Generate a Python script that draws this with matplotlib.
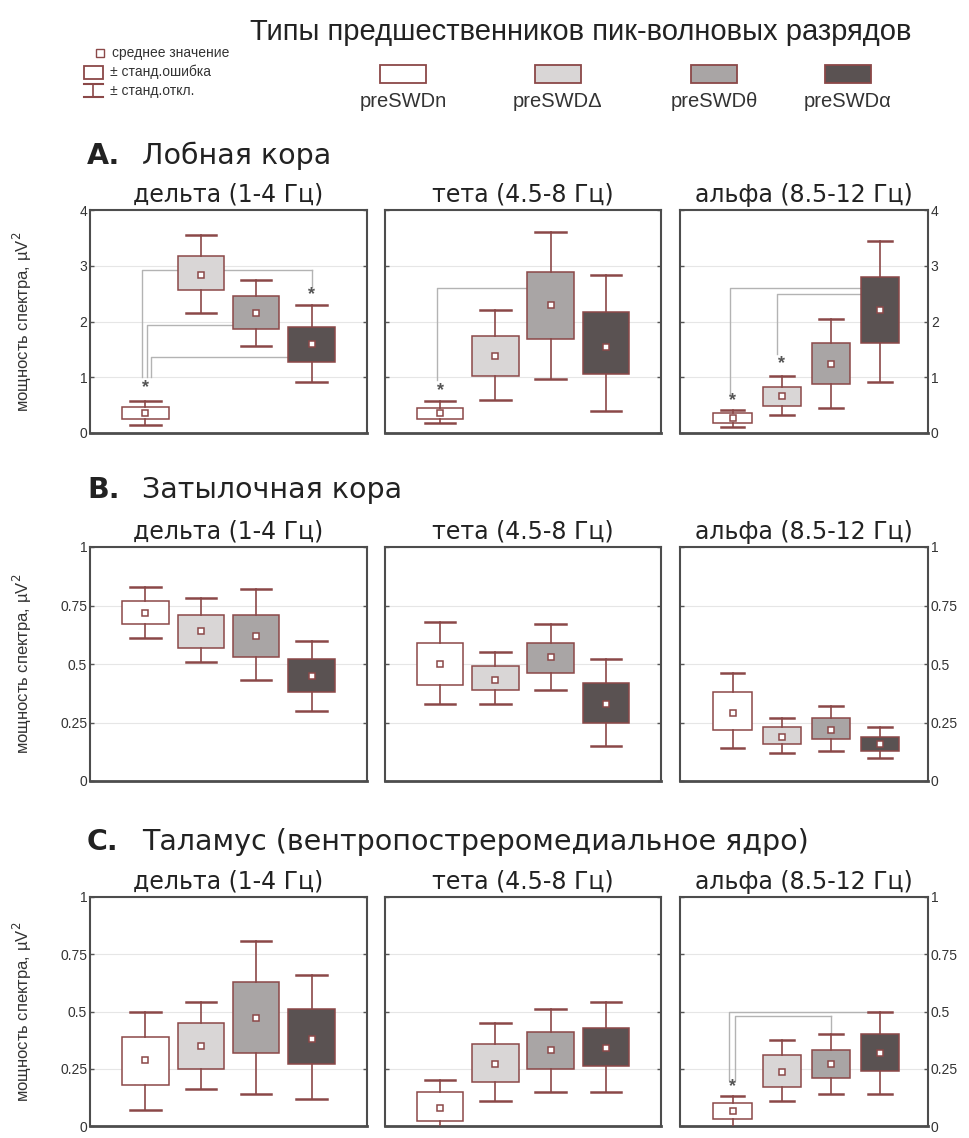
import numpy as np
import matplotlib.pyplot as plt
from matplotlib.patches import Rectangle

plt.rcParams['font.family'] = ['Liberation Sans', 'DejaVu Sans']

groups = ['preSWDn', 'preSWDΔ', 'preSWDθ', 'preSWDα']
bands = ['дельта (1-4 Гц)', 'тета (4.5-8 Гц)', 'альфа (8.5-12 Гц)']
regions = ['Лобная кора', 'Затылочная кора', 'Таламус (вентропостреромедиальное ядро)']
letters = ['A.', 'B.', 'C.']

# rows = delta, theta, alpha; columns = preSWDn, preSWDΔ, preSWDθ, preSWDα
frontal_mean = [[0.35, 2.83, 2.15, 1.59],
                [0.35, 1.39, 2.29, 1.54],
                [0.27, 0.66, 1.24, 2.21]]
frontal_se_lo = [[0.25, 2.56, 1.87, 1.27],
                 [0.26, 1.03, 1.69, 1.06],
                 [0.18, 0.49, 0.88, 1.61]]
frontal_se_hi = [[0.46, 3.17, 2.45, 1.91],
                 [0.45, 1.74, 2.89, 2.17],
                 [0.36, 0.83, 1.61, 2.80]]
frontal_sd_lo = [[0.14, 2.15, 1.56, 0.91],
                 [0.18, 0.60, 0.96, 0.40],
                 [0.10, 0.32, 0.45, 0.91]]
frontal_sd_hi = [[0.58, 3.55, 2.74, 2.30],
                 [0.57, 2.20, 3.60, 2.84],
                 [0.42, 1.02, 2.05, 3.45]]

occipital_mean = [[0.72, 0.64, 0.62, 0.45],
                  [0.50, 0.43, 0.53, 0.33],
                  [0.29, 0.19, 0.22, 0.16]]
occipital_se_lo = [[0.67, 0.57, 0.53, 0.38],
                   [0.41, 0.39, 0.46, 0.25],
                   [0.22, 0.16, 0.18, 0.13]]
occipital_se_hi = [[0.77, 0.71, 0.71, 0.52],
                   [0.59, 0.49, 0.59, 0.42],
                   [0.38, 0.23, 0.27, 0.19]]
occipital_sd_lo = [[0.61, 0.51, 0.43, 0.30],
                   [0.33, 0.33, 0.39, 0.15],
                   [0.14, 0.12, 0.13, 0.10]]
occipital_sd_hi = [[0.83, 0.78, 0.82, 0.60],
                   [0.68, 0.55, 0.67, 0.52],
                   [0.46, 0.27, 0.32, 0.23]]

thalamus_mean = [[0.29, 0.35, 0.47, 0.38],
                 [0.08, 0.27, 0.33, 0.34],
                 [0.065, 0.235, 0.27, 0.32]]
thalamus_se_lo = [[0.18, 0.25, 0.32, 0.27],
                  [0.02, 0.19, 0.25, 0.26],
                  [0.03, 0.17, 0.21, 0.24]]
thalamus_se_hi = [[0.39, 0.45, 0.63, 0.51],
                  [0.15, 0.36, 0.41, 0.43],
                  [0.10, 0.31, 0.33, 0.40]]
thalamus_sd_lo = [[0.07, 0.16, 0.14, 0.12],
                  [-0.03, 0.11, 0.15, 0.15],
                  [-0.01, 0.11, 0.14, 0.14]]
thalamus_sd_hi = [[0.50, 0.54, 0.81, 0.66],
                  [0.20, 0.45, 0.51, 0.54],
                  [0.13, 0.375, 0.40, 0.50]]

# significance asterisks: (region, band, group, y)
stars = [(0, 0, 0, 0.82), (0, 0, 3, 2.49), (0, 1, 0, 0.76),
         (0, 2, 0, 0.58), (0, 2, 1, 1.24), (2, 2, 0, 0.17)]
# connecting lines: (region, band, from group, to group, level, start y, drop-to y)
links = [(0, 0, 0, 3, 2.93, 1.0, 2.62),
         (0, 0, 0, 2, 1.93, 1.0, None),
         (0, 0, 0, 3, 1.36, 1.0, None),
         (0, 1, 0, 2, 2.60, 0.95, None),
         (0, 2, 0, 3, 2.60, 0.70, None),
         (0, 2, 1, 3, 2.50, 1.42, None),
         (2, 2, 0, 3, 0.50, 0.20, None),
         (2, 2, 0, 2, 0.48, 0.20, 0.41)]
link_dx = [-0.07, 0.02, 0.11, -0.05, -0.05, -0.1, -0.08, 0.05]

data = [(frontal_mean, frontal_se_lo, frontal_se_hi, frontal_sd_lo, frontal_sd_hi),
        (occipital_mean, occipital_se_lo, occipital_se_hi, occipital_sd_lo, occipital_sd_hi),
        (thalamus_mean, thalamus_se_lo, thalamus_se_hi, thalamus_sd_lo, thalamus_sd_hi)]

fills = ['#ffffff', '#d9d6d6', '#a9a5a5', '#5a5252']
edge = '#8b4848'
frame = '#4d4d4d'

W, H = 969, 1138
fig = plt.figure(figsize=(W / 100, H / 100), dpi=100)

cols = [(90, 277), (385, 276), (680, 248)]
rows = [(210, 223), (547, 234), (897, 229)]
title_y = [156, 490, 842]

axes = {}
for r in range(3):
    mean, se_lo, se_hi, sd_lo, sd_hi = data[r]
    y0, h = rows[r]
    for b in range(3):
        x0, w = cols[b]
        ax = fig.add_axes([x0 / W, 1 - (y0 + h) / H, w / W, h / H])
        axes[(r, b)] = ax
        stats = []
        for g in range(4):
            stats.append(dict(med=mean[b][g], q1=se_lo[b][g], q3=se_hi[b][g],
                              whislo=sd_lo[b][g], whishi=sd_hi[b][g],
                              mean=mean[b][g], fliers=[]))
        bw = 0.78 if b == 2 else 0.84
        cw = 0.48 if b == 2 else 0.55
        res = ax.bxp(stats, positions=range(4), widths=bw, capwidths=cw,
                     patch_artist=True, showmeans=True, showfliers=False,
                     manage_ticks=False, zorder=3,
                     boxprops=dict(edgecolor=edge, linewidth=1.1),
                     whiskerprops=dict(color=edge, linewidth=1.2),
                     capprops=dict(color=edge, linewidth=1.8),
                     medianprops=dict(linewidth=0),
                     meanprops=dict(marker='s', markerfacecolor='white',
                                    markeredgecolor=edge, markersize=5,
                                    markeredgewidth=1.1))
        for patch, fc in zip(res['boxes'], fills):
            patch.set_facecolor(fc)
        for m in res['medians']:
            m.set_visible(False)

        if b == 2:
            ax.set_xlim(-1.07, 3.97)
        else:
            ax.set_xlim(-1.0, 4.0)
        if r == 0:
            ax.set_ylim(0, 4)
            ax.set_yticks([0, 1, 2, 3, 4])
            ax.set_yticklabels(['0', '1', '2', '3', '4'])
        else:
            ax.set_ylim(0, 1)
            ax.set_yticks([0, 0.25, 0.5, 0.75, 1])
            ax.set_yticklabels(['0', '0.25', '0.5', '0.75', '1'])
        ax.set_xticks([])
        ax.yaxis.grid(True, color='#e6e6e6', linewidth=0.8)
        ax.set_axisbelow(True)
        ax.tick_params(axis='y', direction='in', length=3, width=1,
                       color='#555555', labelcolor='#333333', labelsize=10,
                       left=True, right=True,
                       labelleft=(b == 0), labelright=(b == 2), pad=2)
        for s in ax.spines.values():
            s.set_color(frame)
            s.set_linewidth(1.5)
        ax.spines['bottom'].set_linewidth(2.0)
        ax.set_title(bands[b], fontsize=17, family='DejaVu Sans',
                     color='#222222', pad=6)

    fig.text(87 / W, 1 - title_y[r] / H, letters[r], fontsize=20.5,
             fontweight='bold', family='DejaVu Sans', color='#222222', va='center')
    fig.text(142 / W, 1 - title_y[r] / H, regions[r], fontsize=20.5,
             family='DejaVu Sans', color='#222222', va='center')
    fig.text(22 / W, 1 - (y0 + h / 2) / H, 'мощность спектра, µV$^2$',
             rotation=90, fontsize=12, color='#333333', ha='center', va='center')

for i, (r, b, g0, g1, level, ystart, yend) in enumerate(links):
    ax = axes[(r, b)]
    xs = g0 + link_dx[i]
    ax.plot([xs, xs, g1], [ystart, level, level], color='#b3b3b3',
            linewidth=1.0, zorder=2)
    if yend is not None:
        ax.plot([g1, g1], [level, yend], color='#b3b3b3', linewidth=1.0, zorder=2)

for r, b, g, y in stars:
    axes[(r, b)].text(g, y, '*', fontsize=13, fontweight='bold', color='#555555',
                      ha='center', va='center', zorder=4)

# header and legends
fig.text(581 / W, 1 - 32 / H, 'Типы предшественников пик-волновых разрядов',
         fontsize=21, color='#222222', ha='center', va='center')

lax = fig.add_axes([0, 0, 1, 1])
lax.set_xlim(0, W)
lax.set_ylim(H, 0)
lax.axis('off')

sw_x = [403, 558, 714, 848]
for x, fc, name in zip(sw_x, fills, groups):
    lax.add_patch(Rectangle((x - 23, 65), 46, 18, facecolor=fc, edgecolor=edge,
                            linewidth=1.3))
    lax.text(x, 101, name, fontsize=14.5, color='#333333', ha='center', va='center')

lax.plot([100], [53], marker='s', markersize=6, markerfacecolor='white',
         markeredgecolor=edge, markeredgewidth=1.0)
lax.text(112, 53, 'среднее значение', fontsize=10, color='#333333', va='center')
lax.add_patch(Rectangle((84, 66), 19, 13, facecolor='white', edgecolor=edge,
                        linewidth=1.3))
lax.text(110, 72, '± станд.ошибка', fontsize=10, color='#333333', va='center')
lax.plot([93.5, 93.5], [84, 97], color=edge, linewidth=1.2)
lax.plot([84, 103], [84, 84], color=edge, linewidth=1.5)
lax.plot([84, 103], [97, 97], color=edge, linewidth=1.5)
lax.text(110, 91, '± станд.откл.', fontsize=10, color='#333333', va='center')

fig.savefig('out.png', dpi=100)
